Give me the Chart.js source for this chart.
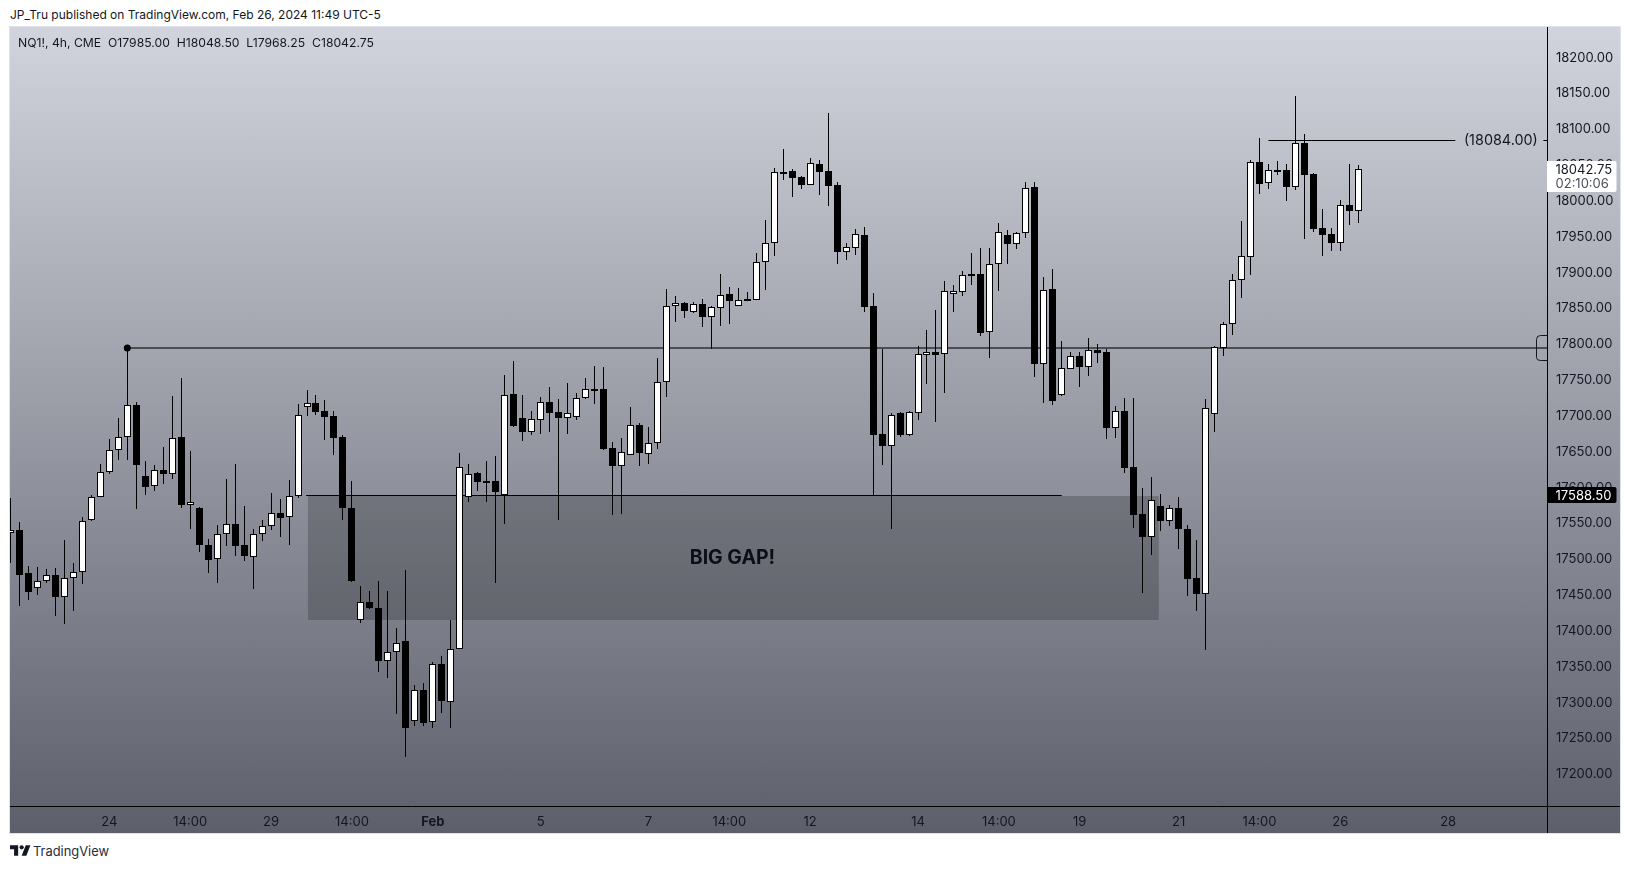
<!DOCTYPE html>
<html>
<head>
<meta charset="utf-8">
<title>NQ1! 4h</title>
<script src="https://cdn.jsdelivr.net/npm/chart.js@4"></script>
<style>
html,body{margin:0;padding:0;background:#fff;width:1631px;height:869px;overflow:hidden;font-family:Inter,sans-serif;color:#131722}
#panel{position:absolute;left:10px;top:27px;width:1610px;height:806px;background:linear-gradient(180deg,#D1D4DC 0%,#5D606B 100%);box-shadow:0 0 0 1px #e0e3eb}
#c{position:absolute;left:10px;top:27px}
.t{position:absolute;white-space:pre;line-height:16px}
#pub{left:10px;top:7px;font-size:12px}
#sym{left:18px;top:35px;font-size:12.2px}
#brand{left:33px;top:844px;font-size:12.9px;color:#2a2e39}
#logo{position:absolute;left:10px;top:845px}
</style>
</head>
<body>
<div id="panel"></div>
<canvas id="c" width="1610" height="806"></canvas>
<div class="t" id="pub">JP_Tru published on TradingView.com, Feb 26, 2024 11:49 UTC-5</div>
<div class="t" id="sym">NQ1!, 4h, CME  O17985.00  H18048.50  L17968.25  C18042.75</div>
<svg id="logo" width="21" height="11" viewBox="0 0 36 18"><path fill="#131722" d="M14 18H7V7H0V0h14v18zM28 18h-8L27 0h8l-7 18z"/><circle fill="#131722" cx="20" cy="3.6" r="3.6"/></svg>
<div class="t" id="brand">TradingView</div>
<script>
const opens=[
17535,17539,17479,17459,17469,17476,17446.5,17472,17480.5,17553,
17585,17620,17650.5,17669,17713.5,17614.5,17600.5,17623,17617,17669,
17575,17570,17518,17498.5,17533.5,17547.5,17518,17501.5,17533.5,17544.5,
17563,17557,17586.5,17710.5,17716.5,17705.5,17698,17669,17570,17414.5,
17439,17430,17356,17369,17384,17272.5,17316,17271,17352,17299,
17373,17586,17618.5,17607.5,17607.5,17589,17729,17696,17676.5,17693.5,
17718,17704,17696,17697.5,17723,17736,17736,17654,17629,17644.5,
17686,17646,17661.5,17745.5,17851.5,17856,17844,17855,17837,17849.5,
17869,17852.5,17861,17861,17914,17939.5,18038.5,18040.5,18032,18021.5,
18050.5,18040.5,18021,17928,17933.5,17951,17852,17673,17656,17702.5,
17672.5,17702.5,17784,17788.5,17784.5,17869.5,17872,17897,17897,17815.5,
17910.5,17951,17939,17953.5,18018,17770.5,17876,17728.5,17764.5,17782,
17767.5,17790,17787.5,17682.5,17705,17627.5,17562,17530,17572.5,17552.5,
17569.5,17541.5,17472,17450.5,17702,17793,17826.5,17888,17921,18052.5,
18023.5,18041.5,18041.5,18017.5,18079,18036,17960.5,17952,17940.5,17992.5,17985];
const highs=[
17584,17551,17489,17488,17485,17486.5,17525.5,17493,17557,17588.5,
17631,17666.5,17696,17793.5,17718,17635.5,17630,17655.5,17726.5,17751.5,
17649.5,17571,17526.5,17546,17610,17631,17572.5,17540.5,17553,17590.5,
17583,17609.5,17715,17734.5,17727.5,17720.5,17705.5,17671.5,17607.5,17461.5,
17454.5,17468.5,17454.5,17402.5,17483.5,17323,17325.5,17355,17363.5,17413.5,
17647,17631.5,17620,17636,17643,17756,17775.5,17728,17705.5,17725,
17739,17722.5,17744.5,17730.5,17751.5,17768,17766.5,17662.5,17668,17711,
17689,17683,17779.5,17876,17866,17857.5,17857.5,17862,17852,17896.5,
17878.5,17877,17871.5,17925.5,17971.5,18044,18071,18043,18033.5,18058,
18055.5,18121,18024.5,17939.5,17959,17962.5,17870.5,17792,17702.5,17703.5,
17705,17796.5,17818.5,17846.5,17886.5,17881,17900.5,17925.5,17932.5,17932.5,
17967.5,17957.5,17955,18024.5,18024.5,17892,17903.5,17803,17787.5,17787.5,
17807,17799,17792,17712,17723,17723,17597.5,17613,17589.5,17574,
17585,17546,17525,17722,17796,17829.5,17896.5,17970.5,18055.5,18086,
18050,18054,18050,18145.5,18092,18037,17987.5,17961,17999.5,18050,18048.5];
const lows=[
17493,17434,17442,17449,17465,17419.5,17408,17427,17464.5,17552.5,
17585,17617,17637.5,17637,17569,17588.5,17594.5,17603,17610,17570.5,
17541.5,17509,17480,17466,17517.5,17503.5,17496.5,17457.5,17524.5,17540,
17530,17519,17583.5,17699,17700.5,17665.5,17644.5,17553.5,17467.5,17410,
17429.5,17342,17333.5,17283,17222,17266.5,17266.5,17262.5,17284.5,17263.5,
17373,17578.5,17594,17578.5,17466,17548,17683.5,17663.5,17672.5,17674,
17676,17554,17674,17693.5,17722.5,17715.5,17651,17561,17562,17644,
17629,17631.5,17652.5,17725,17829.5,17835.5,17842.5,17822.5,17792,17824,
17827,17852,17859,17860.5,17874.5,17922.5,18028,18003.5,18016,18021,
18007,17991.5,17911,17916.5,17923.5,17843,17588.5,17630.5,17541,17669.5,
17671,17693,17743,17690,17731,17843.5,17866.5,17881.5,17810,17779.5,
17873,17911,17932,17947.5,17753.5,17717,17714.5,17727,17764.5,17739.5,
17755,17773,17667,17668.5,17619.5,17542.5,17452,17504.5,17538.5,17545.5,
17513,17448,17427,17372.5,17676.5,17782.5,17812,17863.5,17896,18009,
18016,18035,17999,18014.5,17946,17956,17922.5,17929.5,17929.5,17965.5,17968.25];
const closes=[
17539,17477,17453.5,17469,17476,17446.5,17472,17480.5,17551.5,17585,
17620,17650.5,17669,17713.5,17629.5,17600,17623,17617,17667.5,17575,
17578,17518,17498,17533.5,17547.5,17517.5,17503.5,17533.5,17544.5,17563,
17556.5,17586.5,17699.5,17716.5,17704.5,17697.5,17668.5,17569.5,17469,17438.5,
17430,17356,17369,17381.5,17263.5,17316,17269.5,17352,17301.5,17373,
17627,17617,17607,17605,17592.5,17727.5,17684.5,17676,17694,17717.5,
17702.5,17696,17702.5,17723,17736,17735.5,17652.5,17629,17649,17685.5,
17647,17660.5,17745.5,17851.5,17856,17845,17854.5,17837,17850,17867,
17859,17860,17861.5,17913,17939.5,18038.5,18039,18030.5,18021,18051,
18039,18019.5,17927.5,17934,17952,17850.5,17672.5,17656,17699.5,17672.5,
17703.5,17784.5,17788.5,17784,17872.5,17872.5,17895,17896,17815,17910.5,
17955,17939,17953.5,18016.5,17771.5,17874,17720,17765,17782,17767.5,
17790,17786.5,17682.5,17705,17626.5,17561,17530,17581,17552.5,17569.5,
17541.5,17471.5,17450.5,17709.5,17794.5,17826.5,17888,17921.5,18052.5,18023,
18041.5,18041,18018.5,18079,18035.5,17960,17951.5,17940.5,17992.5,17984,18042.75];

const xTickIndex=[11,20,29,38,47,59,71,80,89,101,110,119,130,139,148,160];
const xTickLabels=["24","14:00","29","14:00","Feb","5","7","14:00","12","14","14:00","19","21","14:00","26","28"];
const yTickValues=[17200,17250,17300,17350,17400,17450,17500,17550,17600,17650,17700,17750,17800,17850,17900,17950,18000,18050,18100,18150,18200];

const levelHigh=17793.5, levelHighStart=13;
const gapTop=17588.5, gapBottom=17414, gapStart=33.1, gapEnd=127.8, gapLineStart=32.9, gapLineEnd=117, gapLabel="BIG GAP!";
const target=18084, targetStart=140, targetEnd=160.8, targetResume=170.6, targetLabel="(18084.00)";
const lastPrice=18042.75, lastPriceLabel="18042.75", countdownLabel="02:10:06", gapPriceLabel="17588.50";
const xMin=-0.056, xMax=171.06, yMin=17153.9, yMax=18241.4;

const idx=opens.map((_,i)=>i);
const bodies=opens.map((o,i)=>[o,closes[i]]);
const wicks=lows.map((l,i)=>[l,highs[i]]);
const bodyFill=opens.map((o,i)=>closes[i]>=o?"#ffffff":"#000000");

// keep the point markers from insetting the plot area
Chart.LineController.prototype.getMaxOverflow=function(){return 0;};

const snap={id:"snap",afterDatasetsUpdate(chart){
  chart.data.datasets.forEach((ds,di)=>{
    const meta=chart.getDatasetMeta(di);
    if(meta.type==="bar"){
      meta.data.forEach(el=>{
        el.x=Math.floor(el.x)+0.5;
        let a=Math.round(el.y),b=Math.round(el.base);
        if(ds.label==="body"&&Math.abs(a-b)<2){b=a+2;}
        el.y=a;el.base=b;
      });
    }else{
      const odd=(ds.borderWidth||1)%2===1;
      meta.data.forEach(el=>{if(!el.skip)el.y=odd?Math.round(el.y)+0.5:Math.round(el.y);});
    }
  });
}};

const drawings={id:"drawings",
  beforeDatasetsDraw(chart){
    const {ctx,scales:{x,y}}=chart;
    const l=x.getPixelForValue(gapStart),r=x.getPixelForValue(gapEnd),t=Math.round(y.getPixelForValue(gapTop))+1,b=Math.round(y.getPixelForValue(gapBottom));
    ctx.save();
    ctx.fillStyle="rgba(0,0,0,0.195)";
    ctx.fillRect(l,t,r-l,b-t);
    ctx.fillStyle="#0b0e16";
    ctx.font="bold 19.5px Inter, sans-serif";
    ctx.textAlign="center";ctx.textBaseline="middle";
    ctx.fillText(gapLabel,x.getPixelForValue(80.35),y.getPixelForValue(17500));
    ctx.restore();
  },
  afterDraw(chart){
    const {ctx,scales:{x,y},chartArea:a,width,height}=chart;
    ctx.save();
    ctx.strokeStyle="#000";ctx.lineWidth=1;
    ctx.beginPath();
    const ay=Math.floor(a.bottom)+0.5, ax=Math.floor(a.right)+0.5;
    ctx.moveTo(0,ay);ctx.lineTo(width,ay);
    ctx.moveTo(ax,0);ctx.lineTo(ax,height);
    ctx.stroke();
    // collapsed-line bracket at the price axis
    const ly=y.getPixelForValue(levelHigh);
    ctx.beginPath();
    ctx.moveTo(ax,Math.round(ly-13)+0.5);
    ctx.lineTo(ax-7,Math.round(ly-13)+0.5);
    ctx.quadraticCurveTo(ax-11,Math.round(ly-13)+0.5,ax-11,Math.round(ly-9)+0.5);
    ctx.lineTo(ax-11,Math.round(ly+9)+0.5);
    ctx.quadraticCurveTo(ax-11,Math.round(ly+12.5)+0.5,ax-7,Math.round(ly+12.5)+0.5);
    ctx.lineTo(ax,Math.round(ly+12.5)+0.5);
    ctx.strokeStyle="#131722";ctx.stroke();
    // target label
    ctx.fillStyle="#131722";
    ctx.font="14.4px Inter, sans-serif";ctx.textAlign="center";ctx.textBaseline="middle";
    ctx.fillText(targetLabel,x.getPixelForValue(165.87),y.getPixelForValue(target)+1);
    // price labels
    const px=ax-0.5,pw=69.5;
    const ly2=y.getPixelForValue(lastPrice);
    ctx.fillStyle="#ffffff";
    ctx.beginPath();ctx.roundRect(px,Math.round(ly2-8),pw,31,[0,2,2,0]);ctx.fill();
    ctx.font="13px Inter, sans-serif";ctx.textAlign="left";
    ctx.fillStyle="#131722";ctx.fillText(lastPriceLabel,px+8.5,ly2+1);
    ctx.fillStyle="#4a4e5a";ctx.fillText(countdownLabel,px+8.5,ly2+14.5);
    const gy=y.getPixelForValue(gapTop);
    ctx.fillStyle="#000";
    ctx.beginPath();ctx.roundRect(px,Math.round(gy-7.6),pw,16,[0,2,2,0]);ctx.fill();
    ctx.fillStyle="#ffffff";ctx.fillText(gapPriceLabel,px+8.5,gy+1);
    ctx.restore();
  }
};

new Chart(document.getElementById("c"),{
  type:"bar",
  data:{labels:idx,datasets:[
    {type:"bar",label:"body",data:bodies,backgroundColor:bodyFill,borderColor:"#000000",borderWidth:1,borderSkipped:false,inflateAmount:0,barThickness:7,grouped:false,order:1},
    {type:"bar",label:"wick",data:wicks,backgroundColor:"#000000",borderWidth:0,borderSkipped:false,inflateAmount:0,barThickness:1,grouped:false,order:2},
    {type:"line",label:"level",data:[{x:levelHighStart,y:levelHigh},{x:xMax,y:levelHigh}],borderColor:"#4c4c54",borderWidth:2,pointRadius:[3.5,0],pointBackgroundColor:"#000",pointBorderWidth:0,order:4},
    {type:"line",label:"gapline",data:[{x:gapLineStart,y:gapTop},{x:gapLineEnd,y:gapTop}],borderColor:"#000",borderWidth:1,pointRadius:0,order:3},
    {type:"line",label:"target",data:[{x:targetStart,y:target},{x:targetEnd,y:target},{x:NaN,y:NaN},{x:targetResume,y:target},{x:xMax,y:target}],borderColor:"#000",borderWidth:1,pointRadius:0,spanGaps:false,order:3}
  ]},
  options:{
    responsive:false,animation:false,devicePixelRatio:1,
    layout:{padding:0},
    plugins:{legend:{display:false},tooltip:{enabled:false},title:{display:false}},
    scales:{
      x:{type:"linear",min:xMin,max:xMax,offset:false,position:"bottom",
        grid:{display:false,offset:false,drawTicks:false},border:{display:false},
        afterBuildTicks(s){s.ticks=xTickIndex.map(v=>({value:v}));},
        afterFit(s){s.height=26.7;s.paddingLeft=0;s.paddingRight=0;},
        ticks:{autoSkip:false,maxRotation:0,minRotation:0,padding:8,color:"#131722",
          font:c=>({family:"Inter, sans-serif",size:13,weight:c.tick&&xTickLabels[xTickIndex.indexOf(c.tick.value)]==="Feb"?"bold":"normal"}),
          callback:v=>xTickLabels[xTickIndex.indexOf(v)]}},
      y:{type:"linear",position:"right",min:yMin,max:yMax,beginAtZero:false,
        grid:{display:false,drawTicks:false},border:{display:false},
        afterBuildTicks(s){s.ticks=yTickValues.map(v=>({value:v}));},
        afterFit(s){s.width=72.5;s.paddingTop=0;s.paddingBottom=0;},
        ticks:{autoSkip:false,padding:8.5,labelOffset:1,color:"#131722",font:{family:"Inter, sans-serif",size:13},callback:v=>v.toFixed(2)}}
    }
  },
  plugins:[snap,drawings]
});
</script>
</body>
</html>
